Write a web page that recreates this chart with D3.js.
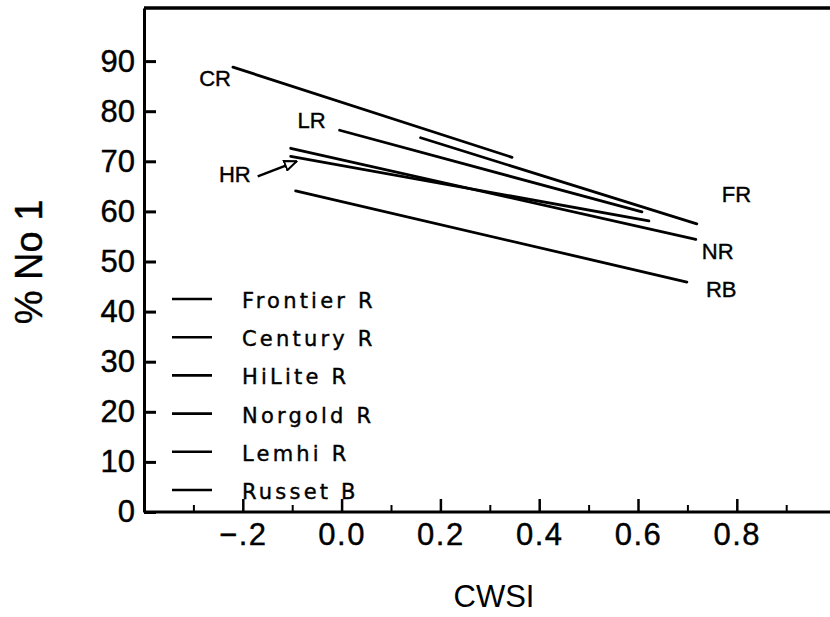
<!DOCTYPE html>
<html>
<head>
<meta charset="utf-8">
<script src="https://cdn.jsdelivr.net/npm/d3@7"></script>
<style>
  body { margin: 0; background: #fff; }
  text { font-family: "Liberation Sans", Arial, sans-serif; fill: #000; stroke: #000; stroke-width: 0.4px; }
</style>
</head>
<body>
<div id="chart"></div>
<script>
// regression lines, % No 1 vs CWSI, one per variety
var varieties = ["Frontier R", "Century R", "HiLite R", "Norgold R", "Lemhi R", "Russet B"];
var codes     = ["FR", "CR", "HR", "NR", "LR", "RB"];
var xStart    = [0.160, -0.220, -0.103, -0.103, -0.004, -0.093];
var xEnd      = [0.719,  0.345,  0.622,  0.717,  0.608,  0.699];
var yStart    = [74.7, 88.8, 71.0, 72.6, 76.2, 64.1];
var yEnd      = [57.5, 70.8, 58.1, 54.4, 59.9, 45.9];

var yTicks = [0, 10, 20, 30, 40, 50, 60, 70, 80, 90];
var xTicks = [-0.2, 0.0, 0.2, 0.4, 0.6, 0.8];
var xTickLabels = ["\u2212.2", "0.0", "0.2", "0.4", "0.6", "0.8"];
var xMinor = [-0.3, -0.1, 0.1, 0.3, 0.5, 0.7, 0.9];

// where each code label sits (pixel offset from the line start or end)
var labelAt = [
  {end: true,  dx: 25, dy: -22, anchor: "start"},  // FR
  {end: false, dx: -2, dy: 19,  anchor: "end"},    // CR
  {end: false, dx: -40, dy: 26, anchor: "end"},    // HR
  {end: true,  dx: 6,  dy: 20,  anchor: "start"},  // NR
  {end: false, dx: -14, dy: -2, anchor: "end"},    // LR
  {end: true,  dx: 19, dy: 15,  anchor: "start"}   // RB
];

var w = 830;
var h = 617;

var x = d3.scaleLinear().domain([-0.4, 1.0]).range([144, 835.6]);
var y = d3.scaleLinear().domain([0, 100.6]).range([512, 8]);

var svg = d3.select("#chart").append("svg")
  .attr("width", w)
  .attr("height", h);

// top frame line
svg.append("line")
  .attr("x1", x(-0.4)).attr("x2", w)
  .attr("y1", y(100.6)).attr("y2", y(100.6))
  .style("stroke", "#000")
  .style("stroke-width", 3.5);

// y axis, ticks pointing inward
var yAxis = svg.append("g")
  .attr("transform", "translate(" + x(-0.4) + ",0)")
  .call(d3.axisLeft(y).tickValues(yTicks).tickSize(-12).tickSizeOuter(0).tickPadding(9));
yAxis.select(".domain").style("stroke-width", 3);
yAxis.selectAll(".tick line").style("stroke-width", 3);
yAxis.selectAll(".tick text")
  .style("font-size", "31px")
  .style("font-family", "Liberation Sans, Arial, sans-serif");

// x axis minor ticks
var xMinorAxis = svg.append("g")
  .attr("transform", "translate(0," + y(0) + ")")
  .call(d3.axisBottom(x).tickValues(xMinor).tickSize(-7).tickFormat(""));
xMinorAxis.select(".domain").remove();
xMinorAxis.selectAll(".tick line").style("stroke-width", 2);

// x axis major ticks
var xAxis = svg.append("g")
  .attr("transform", "translate(0," + y(0) + ")")
  .call(d3.axisBottom(x).tickValues(xTicks).tickSize(-13).tickSizeOuter(0).tickPadding(11)
    .tickFormat(function(d, i) { return xTickLabels[i]; }));
xAxis.select(".domain").style("stroke-width", 3).attr("d", "M" + x(-0.4) + ",0H" + w);
xAxis.selectAll(".tick line").style("stroke-width", 2.5);
xAxis.selectAll(".tick text")
  .style("font-size", "31px")
  .style("letter-spacing", "1.5px")
  .style("font-family", "Liberation Sans, Arial, sans-serif");

// axis titles
svg.append("text")
  .attr("x", 494)
  .attr("y", 607)
  .attr("text-anchor", "middle")
  .style("font-size", "31px")
  .style("stroke-width", 0)
  .text("CWSI");

svg.append("text")
  .attr("transform", "translate(42,262) rotate(-90)")
  .attr("text-anchor", "middle")
  .style("font-size", "38px")
  .text("% No 1");

// regression lines
var idx = d3.range(varieties.length);

svg.append("g").selectAll("line.fit")
  .data(idx)
  .enter().append("line")
  .attr("class", "fit")
  .attr("x1", function(i) { return x(xStart[i]); })
  .attr("y1", function(i) { return y(yStart[i]); })
  .attr("x2", function(i) { return x(xEnd[i]); })
  .attr("y2", function(i) { return y(yEnd[i]); })
  .style("stroke", "#000")
  .style("stroke-width", 2.8)
  .style("stroke-linecap", "round");

// code labels
svg.append("g").selectAll("text")
  .data(idx)
  .enter().append("text")
  .attr("x", function(i) { return (labelAt[i].end ? x(xEnd[i]) : x(xStart[i])) + labelAt[i].dx; })
  .attr("y", function(i) { return (labelAt[i].end ? y(yEnd[i]) : y(yStart[i])) + labelAt[i].dy; })
  .attr("text-anchor", function(i) { return labelAt[i].anchor; })
  .style("font-size", "22px")
  .text(function(i) { return codes[i]; });

// HR arrow
svg.append("defs").append("marker")
  .attr("id", "openhead")
  .attr("viewBox", "0 -6 14 12")
  .attr("refX", 13)
  .attr("refY", 0)
  .attr("markerWidth", 14)
  .attr("markerHeight", 12)
  .attr("markerUnits", "userSpaceOnUse")
  .attr("orient", "auto")
  .append("path")
  .attr("d", "M1,-5L13,0L1,5Z")
  .style("fill", "#fff")
  .style("stroke", "#000")
  .style("stroke-width", 2);

var hr = codes.indexOf("HR");
var hx = x(xStart[hr]), hy = y(yStart[hr]);
svg.append("line")
  .attr("x1", hx - 33).attr("y1", hy + 20)
  .attr("x2", hx + 6).attr("y2", hy + 5)
  .style("stroke", "#000")
  .style("stroke-width", 2.5)
  .attr("marker-end", "url(#openhead)");

// legend
var legend = svg.append("g").selectAll("g")
  .data(idx)
  .enter().append("g")
  .attr("transform", function(i) { return "translate(172," + (299 + i * 38.2) + ")"; });

legend.append("line")
  .attr("x1", 0).attr("x2", 40)
  .style("stroke", "#000")
  .style("stroke-width", 2.6);

legend.append("text")
  .attr("x", 70)
  .attr("y", 9)
  .style("font-family", "DejaVu Sans, sans-serif")
  .style("font-size", "21px")
  .style("letter-spacing", "3.2px")
  .text(function(i) { return varieties[i]; });
</script>
</body>
</html>
